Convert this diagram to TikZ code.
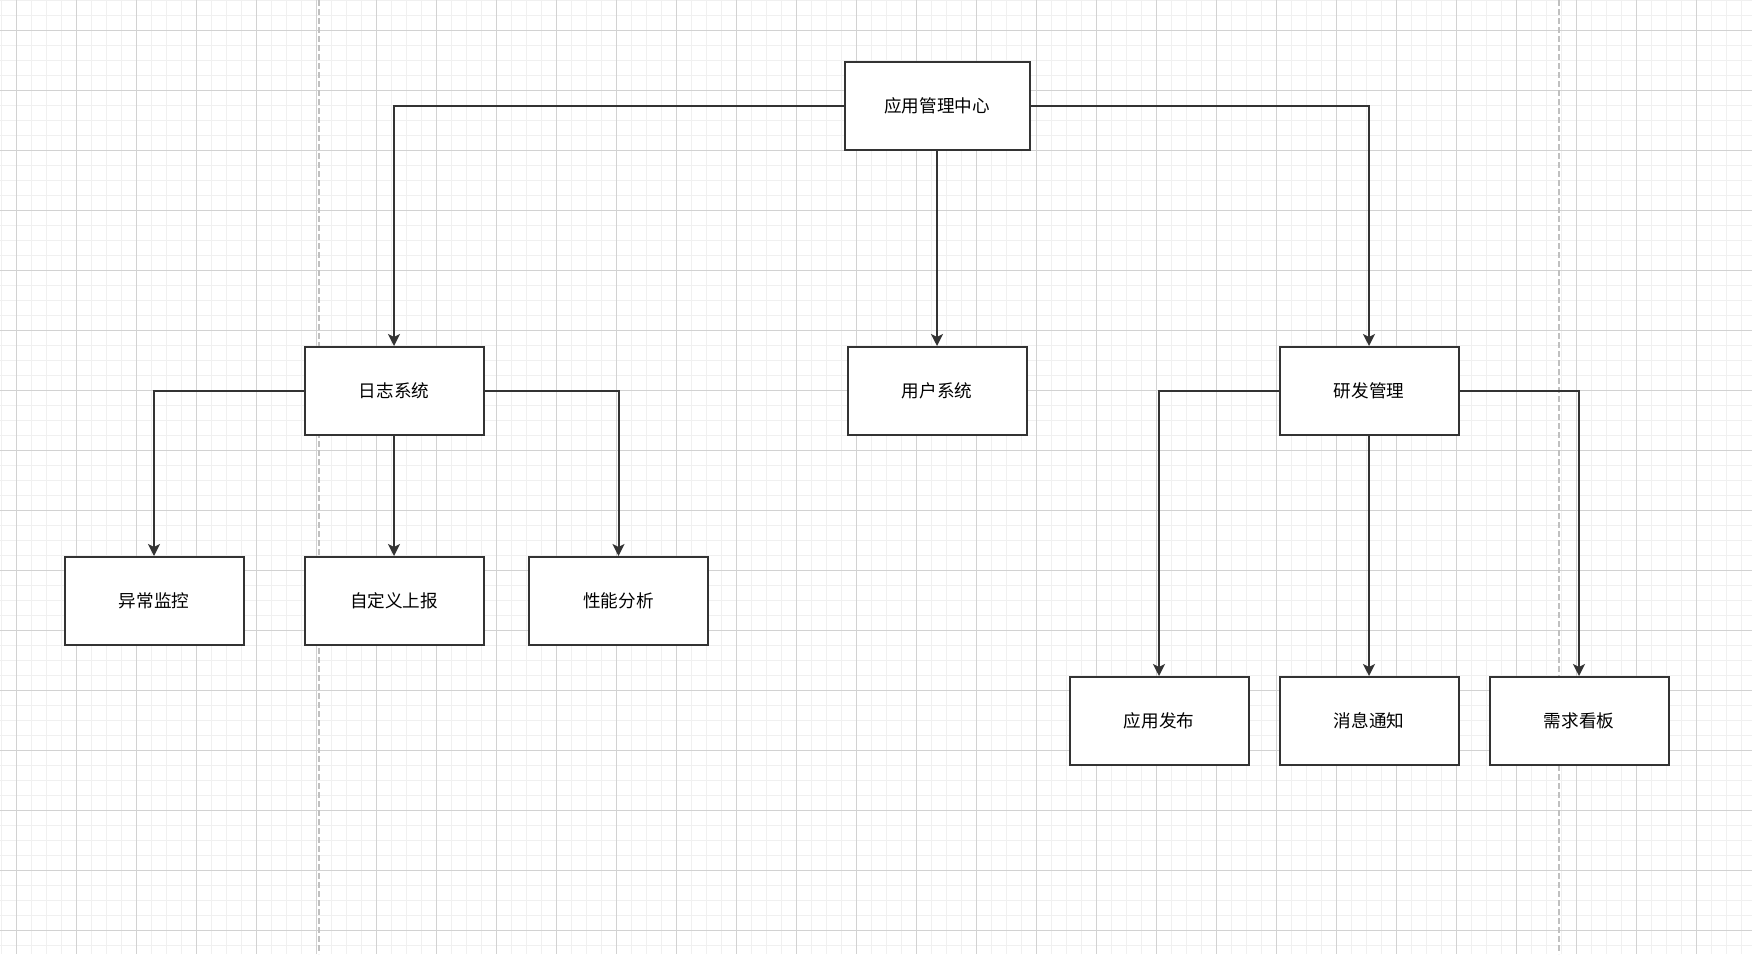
\documentclass[tikz,border=0pt]{standalone}
\usepackage{fontspec}
\usetikzlibrary{arrows.meta}
\newfontfamily\cjk{Noto Sans CJK SC}
\definecolor{minorgrid}{HTML}{F0F0F0}
\definecolor{majorgrid}{HTML}{D2D2D2}
\definecolor{guide}{HTML}{C0C0C0}
\definecolor{ink}{HTML}{333333}
\begin{document}
\begin{tikzpicture}[x=1pt,y=-1pt,
  box/.style={draw=ink, line width=2pt, fill=white, minimum width=179pt, minimum height=88pt,
    inner sep=0pt, font=\cjk\fontsize{17.6}{20}\selectfont, text=black},
  arr/.style={draw=ink, line width=2pt, -{Stealth[length=12pt,width=12pt,inset=3pt]}}
]
\useasboundingbox (0,0) rectangle (1752,954);
\fill[white] (0,0) rectangle (1752,954);
% minor grid
\foreach \i in {0,...,116} {\draw[minorgrid, line width=1.3pt] (1.7+15*\i,0) -- (1.7+15*\i,954);}
\foreach \j in {0,...,63} {\draw[minorgrid, line width=1.3pt] (0,0.3+15*\j) -- (1752,0.3+15*\j);}
% major grid
\foreach \i in {0,...,28} {\draw[majorgrid, line width=1pt] (16.7+60*\i,0) -- (16.7+60*\i,954);}
\foreach \j in {0,...,15} {\draw[majorgrid, line width=1pt] (0,30.3+60*\j) -- (1752,30.3+60*\j);}
% guide lines
\draw[guide, line width=2pt, dash pattern=on 6pt off 3pt] (319,0) -- (319,954);
\draw[guide, line width=2pt, dash pattern=on 6pt off 3pt] (1559.3,0) -- (1559.3,954);

% nodes
\node[box, minimum width=185pt] (root) at (937,105.5) {应用管理中心};
\node[box] (log) at (394,391) {日志系统};
\node[box] (user) at (937,391) {用户系统};
\node[box] (dev) at (1369,391) {研发管理};
\node[box] (c1) at (154,601) {异常监控};
\node[box] (c2) at (394,601) {自定义上报};
\node[box] (c3) at (618.5,601) {性能分析};
\node[box] (d1) at (1159,721) {应用发布};
\node[box] (d2) at (1369,721) {消息通知};
\node[box] (d3) at (1579,721) {需求看板};

% connectors
\draw[arr] (root.west) -| (log.north);
\draw[arr] (root.south) -- (user.north);
\draw[arr] (root.east) -| (dev.north);
\draw[arr] (log.west) -| (c1.north);
\draw[arr] (log.south) -- (c2.north);
\draw[arr] (log.east) -| (c3.north);
\draw[arr] (dev.west) -| (d1.north);
\draw[arr] (dev.south) -- (d2.north);
\draw[arr] (dev.east) -| (d3.north);
\end{tikzpicture}
\end{document}
